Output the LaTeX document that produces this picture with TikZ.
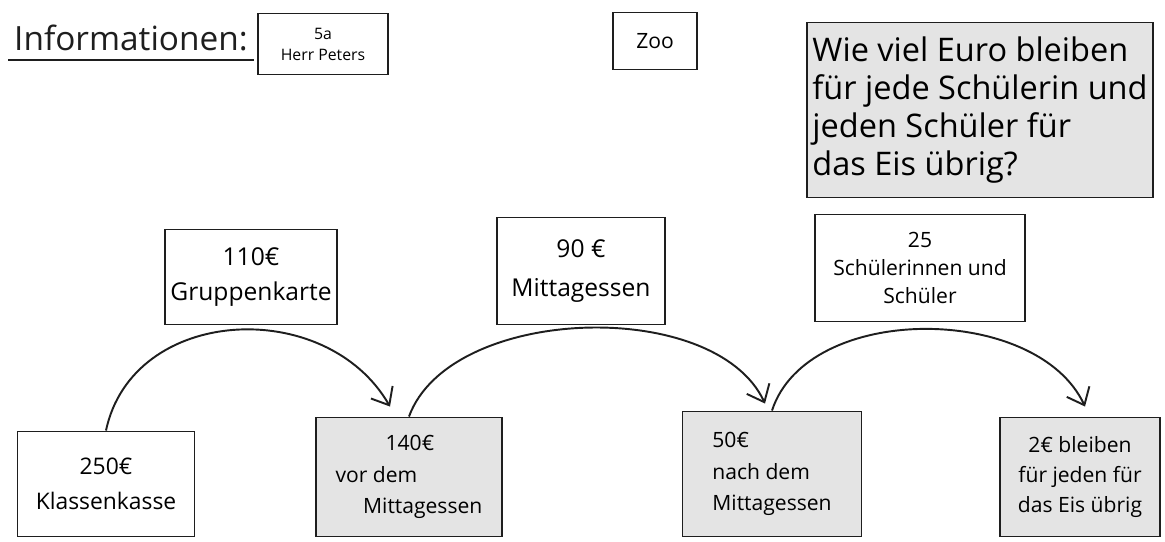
\documentclass[tikz,border=0pt]{standalone}
\usepackage{fontspec}
\setmainfont{Open Sans}
\usetikzlibrary{arrows.meta, positioning}
\definecolor{boxgray}{RGB}{228,228,228}
\definecolor{pencil}{RGB}{30,30,30}

\tikzset{
  box/.style={draw=pencil, line width=1.1pt, inner sep=3pt},
  graybox/.style={box, fill=boxgray},
  flow/.style={draw=pencil, line width=1.1pt, -{Straight Barb[length=3mm,width=5mm]}},
}
\newcommand{\hand}[2]{\fontsize{#1}{#2}\selectfont}

\begin{document}
\begin{tikzpicture}[x=0.02cm, y=-0.02cm]
\useasboundingbox (0,0) rectangle (1165,541);

% Informationen oben
\node[anchor=west, text=pencil, font=\hand{19}{22}] (info) at (8,38) {Informationen:};
\draw[pencil, line width=1.1pt] ([yshift=-0.05cm]info.south west) -- ([yshift=-0.05cm]info.south east);
\node[box, minimum width=2.6cm, minimum height=1.22cm, align=center, font=\hand{9}{12}] (klasse) at (323,44) {5a\\Herr Peters};
\node[box, minimum width=1.68cm, minimum height=1.14cm, font=\hand{12}{14}] (zoo) at (655,41) {Zoo};
\node[graybox, minimum width=6.88cm, minimum height=3.5cm, align=left, font=\hand{18.5}{21.5}] (frage) at (980,110)
  {Wie viel Euro bleiben\\für jede Schülerin und\\jeden Schüler für\\das Eis übrig?};

% Ausgaben
\node[box, minimum width=3.26cm, minimum height=1.9cm, align=center, font=\hand{14}{20}] (karte) at (251,277) {110€\\Gruppenkarte};
\node[box, minimum width=3.36cm, minimum height=2.14cm, align=center, font=\hand{14}{22}] (essen) at (581,271) {90 €\\Mittagessen};
\node[box, minimum width=4.2cm, minimum height=2.14cm, align=center, font=\hand{12}{16}] (anzahl) at (920,268) {25\\Schülerinnen und\\Schüler};

% Kassenstand
\node[box, minimum width=3.54cm, minimum height=2.1cm, align=center, font=\hand{13}{20}] (kasse) at (106,484) {250€\\Klassenkasse};
\node[graybox, minimum width=3.72cm, minimum height=2.38cm, align=left, font=\hand{12}{18}] (vor) at (409,477)
  {\hspace*{1cm}140€\\vor dem\\\hspace*{0.55cm}Mittagessen};
\node[graybox, minimum width=3.58cm, minimum height=2.5cm, align=left, font=\hand{12}{18}] (nach) at (772,474) {50€\\nach dem\\Mittagessen};
\node[graybox, minimum width=3.2cm, minimum height=2.38cm, align=center, font=\hand{12}{17}] (rest) at (1080,477) {2€ bleiben\\für jeden für\\das Eis übrig};

% Boegen
\draw[flow] (kasse.north) to[out=78, in=120, looseness=1.15] ([xshift=-0.38cm, yshift=0.2cm]vor.north);
\draw[flow] (vor.north) to[out=70, in=115, looseness=0.85] ([xshift=-0.14cm, yshift=0.14cm]nach.north);
\draw[flow] (nach.north) to[out=72, in=115, looseness=0.93] ([xshift=0.1cm, yshift=0.2cm]rest.north);
\end{tikzpicture}
\end{document}
